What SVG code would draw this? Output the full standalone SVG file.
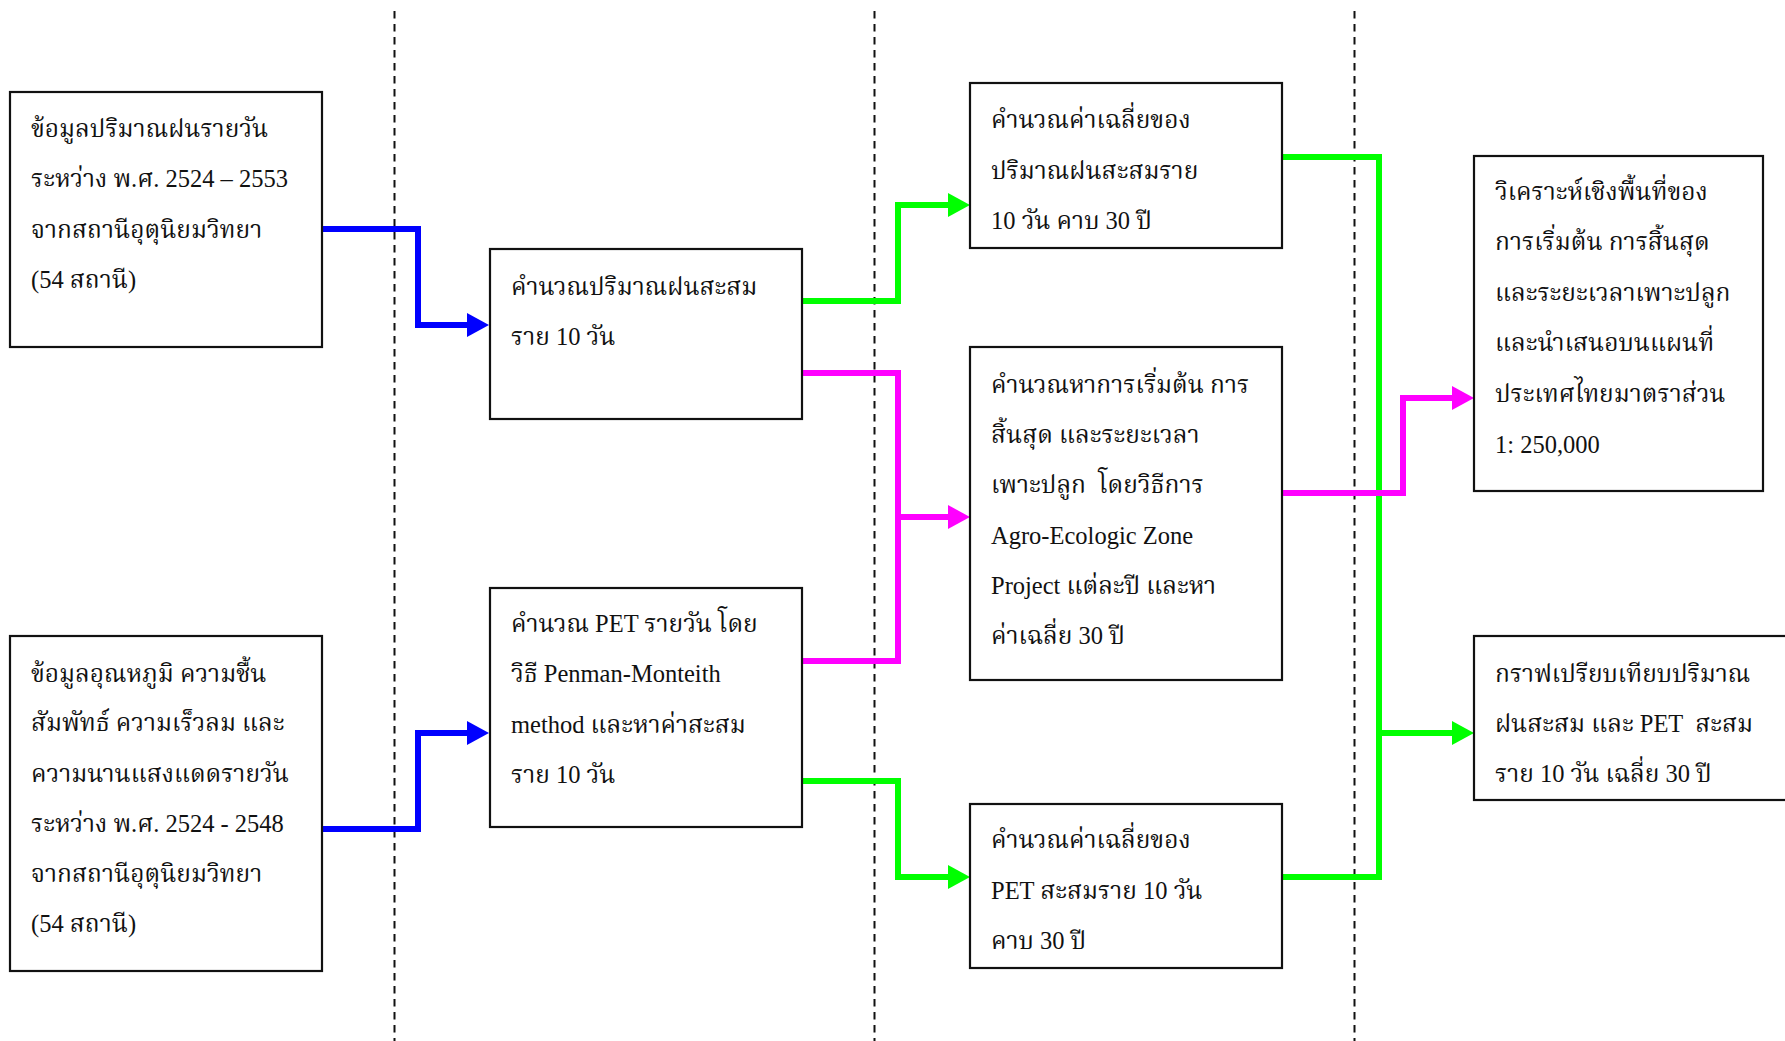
<svg xmlns="http://www.w3.org/2000/svg" width="1785" height="1041" viewBox="0 0 1785 1041">
<style>
.box{fill:#fff;stroke:#111;stroke-width:2.2}
.t{font-family:"Liberation Serif","Noto Serif Thai","Noto Sans Thai","DejaVu Serif",serif;font-size:24.5px;fill:#111}
.dash{stroke:#111;stroke-width:2;stroke-dasharray:7.5 5.5;fill:none}
.c{fill:none;stroke-width:6;stroke-linejoin:miter}
.blue{stroke:#0000ff}
.green{stroke:#00ff00}
.mag{stroke:#ff00ff}
</style>
<defs>
<marker id="ab" markerUnits="userSpaceOnUse" markerWidth="24" markerHeight="26" viewBox="0 -13 24 26" refX="1" refY="0" orient="auto"><path d="M0,-12 L22,0 L0,12 Z" fill="#0000ff"/></marker>
<marker id="ag" markerUnits="userSpaceOnUse" markerWidth="24" markerHeight="26" viewBox="0 -13 24 26" refX="1" refY="0" orient="auto"><path d="M0,-12 L22,0 L0,12 Z" fill="#00ff00"/></marker>
<marker id="am" markerUnits="userSpaceOnUse" markerWidth="24" markerHeight="26" viewBox="0 -13 24 26" refX="1" refY="0" orient="auto"><path d="M0,-12 L22,0 L0,12 Z" fill="#ff00ff"/></marker>
</defs>
<rect width="1785" height="1041" fill="#fff"/>
<g id="dividers">
<line class="dash" x1="394.5" y1="11" x2="394.5" y2="1041"/>
<line class="dash" x1="874.5" y1="11" x2="874.5" y2="1041"/>
<line class="dash" x1="1354.5" y1="11" x2="1354.5" y2="1041"/>
</g>
<g id="connectors">
<path class="c blue" d="M322,229 H418 V325 H468" marker-end="url(#ab)"/>
<path class="c blue" d="M322,829 H418 V733 H468" marker-end="url(#ab)"/>
<path class="c green" d="M802,301 H898 V205 H949" marker-end="url(#ag)"/>
<path class="c mag" d="M802,373 H898 V517 H949" marker-end="url(#am)"/>
<path class="c mag" d="M802,661 H898 V517"/>
<path class="c green" d="M802,781 H898 V877 H949" marker-end="url(#ag)"/>
<path class="c green" d="M1282,157 H1379 V877 H1282"/>
<path class="c green" d="M1379,733 H1453" marker-end="url(#ag)"/>
<path class="c mag" d="M1282,493 H1403 V398 H1453" marker-end="url(#am)"/>
</g>
<g id="n1">
<rect class="box" x="10" y="92" width="312" height="255"/>
<text class="t" x="31" y="137">ข้อมูลปริมาณฝนรายวัน</text>
<text class="t" x="31" y="187">ระหว่าง พ.ศ. 2524 – 2553</text>
<text class="t" x="31" y="238">จากสถานีอุตุนิยมวิทยา</text>
<text class="t" x="31" y="288">(54 สถานี)</text>
</g>
<g id="n2">
<rect class="box" x="10" y="636" width="312" height="335"/>
<text class="t" x="31" y="682">ข้อมูลอุณหภูมิ ความชื้น</text>
<text class="t" x="31" y="731">สัมพัทธ์ ความเร็วลม และ</text>
<text class="t" x="31" y="782">ความนานแสงแดดรายวัน</text>
<text class="t" x="31" y="832">ระหว่าง พ.ศ. 2524 - 2548</text>
<text class="t" x="31" y="882">จากสถานีอุตุนิยมวิทยา</text>
<text class="t" x="31" y="932">(54 สถานี)</text>
</g>
<g id="n3">
<rect class="box" x="490" y="249" width="312" height="170"/>
<text class="t" x="511" y="295">คำนวณปริมาณฝนสะสม</text>
<text class="t" x="511" y="345">ราย 10 วัน</text>
</g>
<g id="n4">
<rect class="box" x="490" y="588" width="312" height="239"/>
<text class="t" x="511" y="632">คำนวณ PET รายวัน โดย</text>
<text class="t" x="511" y="682">วิธี Penman-Monteith</text>
<text class="t" x="511" y="733">method และหาค่าสะสม</text>
<text class="t" x="511" y="783">ราย 10 วัน</text>
</g>
<g id="n5">
<rect class="box" x="970" y="83" width="312" height="165"/>
<text class="t" x="991" y="128">คำนวณค่าเฉลี่ยของ</text>
<text class="t" x="991" y="179">ปริมาณฝนสะสมราย</text>
<text class="t" x="991" y="229">10 วัน คาบ 30 ปี</text>
</g>
<g id="n6">
<rect class="box" x="970" y="347" width="312" height="333"/>
<text class="t" x="991" y="393">คำนวณหาการเริ่มต้น การ</text>
<text class="t" x="991" y="443">สิ้นสุด และระยะเวลา</text>
<text class="t" x="991" y="493" xml:space="preserve">เพาะปลูก  โดยวิธีการ</text>
<text class="t" x="991" y="544">Agro-Ecologic Zone</text>
<text class="t" x="991" y="594">Project แต่ละปี และหา</text>
<text class="t" x="991" y="644">ค่าเฉลี่ย 30 ปี</text>
</g>
<g id="n7">
<rect class="box" x="970" y="804" width="312" height="164"/>
<text class="t" x="991" y="848">คำนวณค่าเฉลี่ยของ</text>
<text class="t" x="991" y="899">PET สะสมราย 10 วัน</text>
<text class="t" x="991" y="949">คาบ 30 ปี</text>
</g>
<g id="n8">
<rect class="box" x="1474" y="156" width="289" height="335"/>
<text class="t" x="1495" y="200">วิเคราะห์เชิงพื้นที่ของ</text>
<text class="t" x="1495" y="250">การเริ่มต้น การสิ้นสุด</text>
<text class="t" x="1495" y="301">และระยะเวลาเพาะปลูก</text>
<text class="t" x="1495" y="351">และนำเสนอบนแผนที่</text>
<text class="t" x="1495" y="402">ประเทศไทยมาตราส่วน</text>
<text class="t" x="1495" y="453">1: 250,000</text>
</g>
<g id="n9">
<rect class="box" x="1474" y="636" width="330" height="164"/>
<text class="t" x="1495" y="682">กราฟเปรียบเทียบปริมาณ</text>
<text class="t" x="1495" y="732" xml:space="preserve">ฝนสะสม และ PET  สะสม</text>
<text class="t" x="1495" y="782">ราย 10 วัน เฉลี่ย 30 ปี</text>
</g>
</svg>
